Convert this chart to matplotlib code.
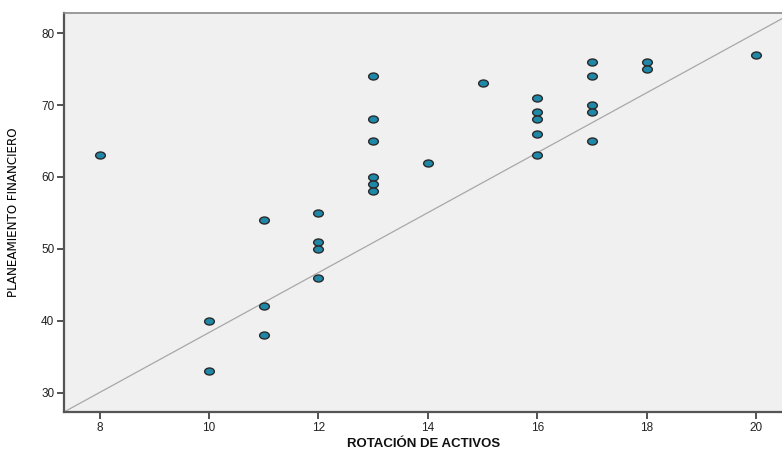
import numpy as np
import matplotlib
matplotlib.use('Agg')
import matplotlib.pyplot as plt
from matplotlib.path import Path
from matplotlib.transforms import Affine2D

# Rotación de activos vs planeamiento financiero
rotacion = [8, 10, 10, 11, 11, 11, 12, 12, 12, 12,
            13, 13, 13, 13, 13, 13, 14, 15,
            16, 16, 16, 16, 16, 17, 17, 17, 17, 17, 18, 18, 20]
planeamiento = [63, 40, 33, 54, 42, 38, 55, 51, 50, 46,
                74, 68, 65, 60, 59, 58, 62, 73,
                71, 69, 68, 66, 63, 76, 74, 70, 69, 65, 76, 75, 77]

# recta de referencia: y = intercepto + pendiente * x
intercepto = -3.35
pendiente = 4.17

xticks = [8, 10, 12, 14, 16, 18, 20]
yticks = [30, 40, 50, 60, 70, 80]

# marcador eliptico (mas ancho que alto)
elipse = Path.unit_circle().transformed(Affine2D().scale(1.0, 0.72))

fig = plt.figure(figsize=(7.82, 4.51), dpi=100)
ax = fig.add_axes([64/782, 1 - 412/451, 1 - 64/782 + 0.002, (412 - 13)/451])
ax.set_facecolor('#f0f0f0')

ax.axline((0, intercepto), slope=pendiente, color='#a8a8a8', lw=0.9, zorder=1)
ax.plot(rotacion, planeamiento, linestyle='None', marker=elipse, markersize=7,
        markerfacecolor='#1f87a8', markeredgecolor='#2a2a2a', markeredgewidth=1.0, zorder=3)

ax.set_xlim(7.35, 20.5)
ax.set_ylim(27.3, 82.8)
ax.set_xticks(xticks)
ax.set_yticks(yticks)
ax.tick_params(direction='out', length=5, width=1.3, color='#444444',
               labelsize=8.5, labelcolor='#222222', pad=2)
for lab in ax.get_xticklabels() + ax.get_yticklabels():
    lab.set_family(['Liberation Sans', 'DejaVu Sans'])

for lado in ['left', 'bottom']:
    ax.spines[lado].set_color('#555555')
    ax.spines[lado].set_linewidth(1.6)
ax.spines['top'].set_color('#8a8a8a')
ax.spines['top'].set_linewidth(1.2)
ax.spines['right'].set_visible(False)

ax.set_xlabel('ROTACIÓN DE ACTIVOS', fontsize=9.5, fontweight='bold',
              family=['Liberation Sans', 'DejaVu Sans'], labelpad=3, color='#111111')
ax.set_ylabel('PLANEAMIENTO FINANCIERO', fontsize=9.5, fontweight='normal',
              family=['DejaVu Sans'], stretch='condensed',
              labelpad=15, color='#000000')

plt.savefig('out.png', dpi=100)
